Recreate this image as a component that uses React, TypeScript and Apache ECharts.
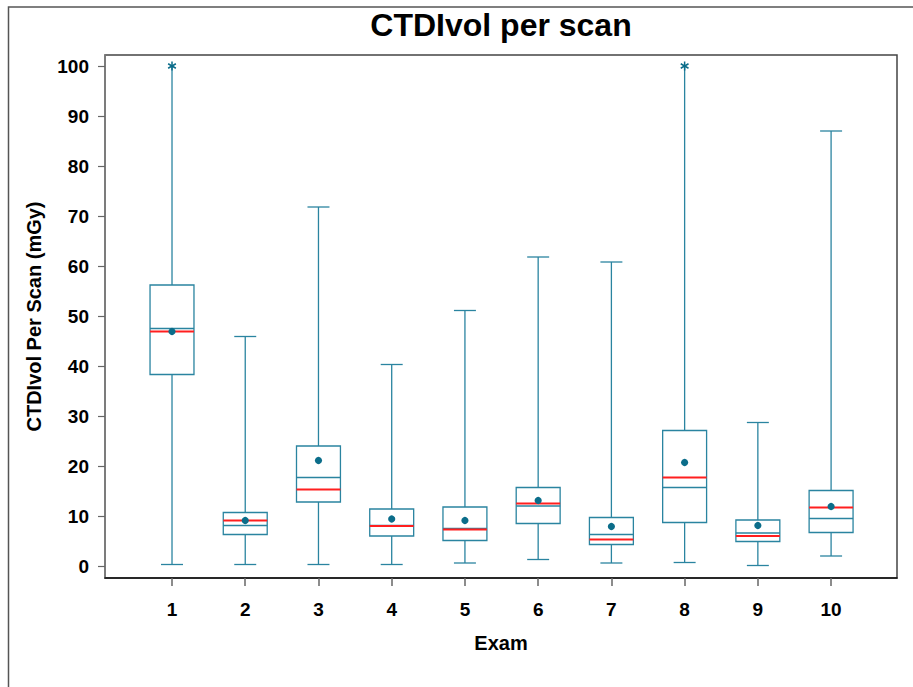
import React, { useEffect, useRef } from "react";
import * as echarts from "echarts";

// Exam numbers along the x axis
const exams = [1, 2, 3, 4, 5, 6, 7, 8, 9, 10];
// Box-plot statistics, CTDIvol per scan (mGy)
const whiskerLow = [0.3, 0.3, 0.3, 0.3, 0.6, 1.3, 0.6, 0.7, 0.1, 2.0];
const quartile1 = [38.3, 6.3, 12.8, 6.0, 5.1, 8.5, 4.3, 8.7, 4.9, 6.7];
const medians = [47.5, 8.1, 17.7, 8.1, 7.5, 12.0, 6.3, 15.7, 6.6, 9.5];
const quartile3 = [56.2, 10.7, 24.0, 11.4, 11.8, 15.7, 9.7, 27.1, 9.2, 15.1];
const whiskerHigh = [100, 45.9, 71.8, 40.3, 51.1, 61.8, 60.8, 100, 28.7, 87.0];
const redLines = [46.9, 9.1, 15.3, 8.0, 7.3, 12.5, 5.3, 17.7, 6.0, 11.7];
const means = [46.9, 9.1, 21.1, 9.4, 9.1, 13.1, 7.9, 20.7, 8.1, 11.9];
// Extreme values flagged with an asterisk (null = none)
const extremes: (number | null)[] = [100, null, null, null, null, null, null, 100, null, null];
// Tick labels
const yTicks = [0, 10, 20, 30, 40, 50, 60, 70, 80, 90, 100];

const FONT = "'Liberation Sans', Arial, Helvetica, sans-serif";
const TEAL = "#2a84a0";
const DOT = "#0b6d8a";
const RED = "#ff1f1f";

export default function App() {
  const ref = useRef<HTMLDivElement>(null);

  useEffect(() => {
    if (!ref.current) return;
    const chart = echarts.init(ref.current, null, { renderer: "svg" });

    const boxData = exams.map((e, i) => [
      e,
      whiskerLow[i],
      quartile1[i],
      medians[i],
      quartile3[i],
      whiskerHigh[i],
      redLines[i],
      means[i],
      extremes[i] == null ? 1 : 0,
    ]);
    const extremeData = exams
      .map((e, i) => (extremes[i] == null ? null : [e, extremes[i] as number]))
      .filter((d) => d !== null);

    const line = (p1: number[], p2: number[], color = TEAL, width = 1.3) => ({
      type: "line",
      shape: { x1: p1[0], y1: p1[1], x2: p2[0], y2: p2[1] },
      style: { stroke: color, lineWidth: width },
    });

    chart.setOption({
      animation: false,
      backgroundColor: "#ffffff",
      grid: {
        left: 105,
        top: 55,
        right: 16,
        bottom: 109,
        show: true,
        borderColor: "#444",
        borderWidth: 1.5,
      },
      graphic: [
        {
          type: "rect",
          shape: { x: 8.5, y: 7, width: 1200, height: 1200 },
          style: { fill: "none", stroke: "#555", lineWidth: 1.5 },
          silent: true,
        },
        {
          type: "text",
          x: 501,
          y: 25,
          style: {
            text: "CTDIvol per scan",
            font: `bold 32px ${FONT}`,
            fill: "#000",
            textAlign: "center",
            textVerticalAlign: "middle",
          },
        },
      ],
      xAxis: {
        type: "value",
        min: 0.085,
        max: 10.9,
        name: "Exam",
        nameLocation: "middle",
        nameGap: 55,
        nameTextStyle: { fontFamily: FONT, fontWeight: "bold", fontSize: 20, color: "#000" },
        axisLine: { show: true, onZero: false, lineStyle: { color: "#111", width: 1.5 } },
        axisTick: { show: true, length: 8, customValues: exams, lineStyle: { color: "#666", width: 1.5 } },
        axisLabel: {
          customValues: exams,
          margin: 22,
          fontFamily: FONT,
          fontWeight: "bold",
          fontSize: 19,
          color: "#000",
        },
        splitLine: { show: false },
      },
      yAxis: {
        type: "value",
        min: -2.4,
        max: 102.2,
        name: "CTDIvol Per Scan (mGy)",
        nameLocation: "middle",
        nameGap: 61,
        nameTextStyle: { fontFamily: FONT, fontWeight: "bold", fontSize: 20, color: "#000" },
        axisLine: { show: true, onZero: false, lineStyle: { color: "#808080", width: 1.5 } },
        axisTick: { show: true, length: 7, customValues: yTicks, lineStyle: { color: "#666", width: 1.2 } },
        axisLabel: {
          customValues: yTicks,
          margin: 16,
          fontFamily: FONT,
          fontWeight: "bold",
          fontSize: 19,
          color: "#000",
        },
        splitLine: { show: false },
      },
      series: [
        {
          type: "custom",
          name: "CTDIvol",
          data: boxData,
          clip: false,
          renderItem: (_params: any, api: any) => {
            const x = api.value(0);
            const unit = api.size([1, 1]);
            const halfBox = 0.3 * unit[0];
            const halfCap = 0.15 * unit[0];
            const p = (v: number) => api.coord([x, v]);
            const low = p(api.value(1));
            const q1 = p(api.value(2));
            const med = p(api.value(3));
            const q3 = p(api.value(4));
            const high = p(api.value(5));
            const red = p(api.value(6));
            const mean = p(api.value(7));
            const hasCap = api.value(8) === 1;
            const cx = low[0];
            const children: any[] = [
              line([cx, low[1]], [cx, q1[1]]),
              line([cx, q3[1]], [cx, high[1]]),
              line([cx - halfCap, low[1]], [cx + halfCap, low[1]]),
              {
                type: "rect",
                shape: { x: cx - halfBox, y: q3[1], width: halfBox * 2, height: q1[1] - q3[1] },
                style: { fill: "rgba(255,255,255,0)", stroke: TEAL, lineWidth: 1.3 },
              },
              line([cx - halfBox, med[1]], [cx + halfBox, med[1]]),
              line([cx - halfBox, red[1]], [cx + halfBox, red[1]], RED, 2),
              {
                type: "circle",
                shape: { cx: mean[0], cy: mean[1], r: 3.6 },
                style: { fill: DOT, stroke: "none" },
              },
            ];
            if (hasCap) {
              children.push(line([cx - halfCap, high[1]], [cx + halfCap, high[1]]));
            }
            return { type: "group", children };
          },
        },
        {
          type: "custom",
          name: "Extreme",
          data: extremeData,
          clip: false,
          renderItem: (_params: any, api: any) => {
            const c = api.coord([api.value(0), api.value(1)]);
            const r = 4.5;
            const dx = r * Math.cos(Math.PI / 6);
            const dy = r * Math.sin(Math.PI / 6);
            return {
              type: "group",
              children: [
                line([c[0], c[1] - r], [c[0], c[1] + r], DOT, 1.5),
                line([c[0] - dx, c[1] - dy], [c[0] + dx, c[1] + dy], DOT, 1.5),
                line([c[0] - dx, c[1] + dy], [c[0] + dx, c[1] - dy], DOT, 1.5),
              ],
            };
          },
        },
      ],
    });

    return () => chart.dispose();
  }, []);

  return (
    <div
      ref={ref}
      style={{ position: "fixed", left: 0, top: 0, width: 913, height: 687, background: "#fff" }}
    />
  );
}
